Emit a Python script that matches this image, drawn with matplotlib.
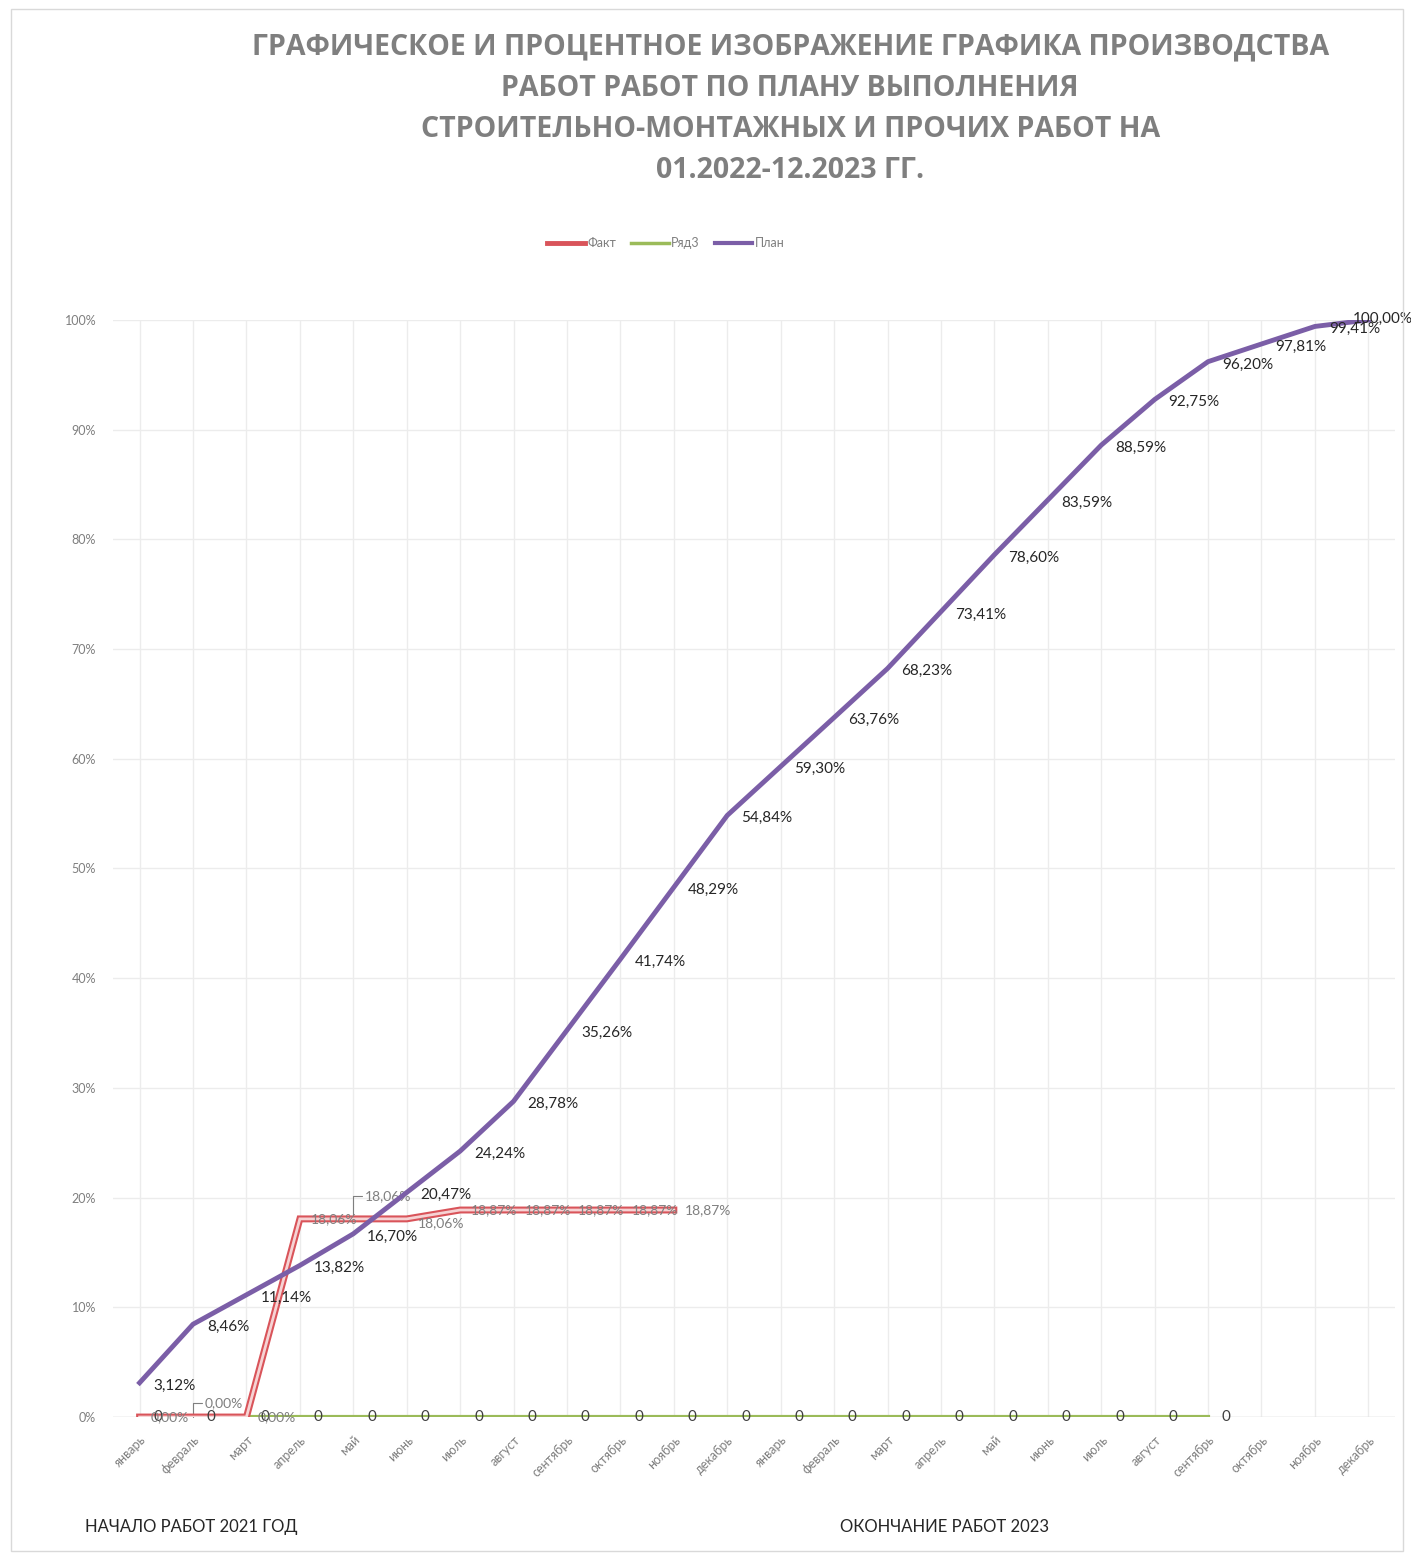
import matplotlib
matplotlib.use("Agg")
import matplotlib.pyplot as plt
from matplotlib.patches import Rectangle
from matplotlib.lines import Line2D

plt.rcParams['font.family'] = ['Lato', 'DejaVu Sans']

months = ['январь', 'февраль', 'март', 'апрель', 'май', 'июнь', 'июль',
          'август', 'сентябрь', 'октябрь', 'ноябрь', 'декабрь']
categories = months + months

plan = [3.12, 8.46, 11.14, 13.82, 16.70, 20.47, 24.24, 28.78, 35.26, 41.74,
        48.29, 54.84, 59.30, 63.76, 68.23, 73.41, 78.60, 83.59, 88.59, 92.75,
        96.20, 97.81, 99.41, 100.00]
fact = [0.00, 0.00, 0.00, 18.06, 18.06, 18.06, 18.87, 18.87, 18.87, 18.87, 18.87]
row3 = [0] * 21

plan_c = '#7b5ea7'
fact_c = '#d9545a'
row3_c = '#9bbb59'
gray = '#7f7f7f'


def pct(v):
    return f"{v:.2f}%".replace('.', ',')


fig = plt.figure(figsize=(14.11, 15.57), dpi=100)
fig.patches.append(Rectangle((0.008, 0.004), 0.986, 0.99, transform=fig.transFigure,
                             fill=False, edgecolor='#d9d9d9', lw=1))
ax = fig.add_axes([0.080, 0.0899, 0.9087, 0.7046])

x_all = list(range(len(categories)))

# lines
ax.plot(x_all[:len(row3)], row3, color=row3_c, lw=3, zorder=3)
ax.plot(x_all[:len(fact)], fact, color=fact_c, lw=5, zorder=4, solid_joinstyle='miter')
ax.plot(x_all[:len(fact)], fact, color='#f6d3d4', lw=2, zorder=5, solid_joinstyle='miter')
ax.plot(x_all, plan, color=plan_c, lw=3.5, zorder=6)

# labels: Ряд3
for i, v in enumerate(row3):
    ax.annotate(str(v), (i, v), xytext=(10, 0), textcoords='offset points',
                ha='left', va='center', fontsize=11, color='#404040', zorder=7)

# labels: Факт
for i, v in enumerate(fact):
    if i == 1:
        ax.annotate(pct(v), (i, v), xytext=(i + 0.22, v + 1.3), textcoords='data',
                    ha='left', va='center', fontsize=10, color=gray,
                    arrowprops=dict(arrowstyle='-', color=gray, lw=0.8,
                                    shrinkA=0, shrinkB=0,
                                    connectionstyle='angle,angleA=0,angleB=90,rad=0'))
    elif i == 4:
        ax.annotate(pct(v), (i, v), xytext=(i + 0.22, v + 2.1), textcoords='data',
                    ha='left', va='center', fontsize=10, color=gray,
                    arrowprops=dict(arrowstyle='-', color=gray, lw=0.8,
                                    shrinkA=0, shrinkB=0,
                                    connectionstyle='angle,angleA=0,angleB=90,rad=0'))
    elif i == 5:
        ax.annotate(pct(v), (i, v), xytext=(8, -3), textcoords='offset points',
                    ha='left', va='center', fontsize=10, color=gray, zorder=7)
    else:
        ax.annotate(pct(v), (i, v), xytext=(8, 0), textcoords='offset points',
                    ha='left', va='center', fontsize=10, color=gray, zorder=7)

# labels: План
for i, v in enumerate(plan):
    off = (10, -2) if i < len(plan) - 1 else (-11, 1)
    ax.annotate(pct(v), (i, v), xytext=off, textcoords='offset points',
                ha='left', va='center', fontsize=11, color='#262626', zorder=8)

ax.set_xlim(-0.5, len(categories) - 0.5)
ax.set_ylim(0, 100)
ax.set_yticks(range(0, 101, 10))
ax.set_yticklabels([f"{t}%" for t in range(0, 101, 10)], fontsize=9, color=gray)
ax.set_xticks(x_all)
ax.set_xticklabels(categories, rotation=45, ha='right', rotation_mode='anchor',
                   fontsize=9, color=gray)
ax.tick_params(length=0, pad=12)
ax.grid(True, color='#ececec', lw=1)
ax.set_axisbelow(True)
for s in ax.spines.values():
    s.set_visible(False)
ax.axhline(0, color='#d9d9d9', lw=1, zorder=1)

# legend
handles = [Line2D([], [], color=fact_c, lw=3.5),
           Line2D([], [], color=row3_c, lw=2.5),
           Line2D([], [], color=plan_c, lw=3)]
leg = fig.legend(handles, ['Факт', 'Ряд3', 'План'], loc='center',
                 bbox_to_anchor=(0.472, 0.844), ncol=3, frameon=False,
                 fontsize=9, handlelength=3, handletextpad=0.2, columnspacing=1.2)
for t in leg.get_texts():
    t.set_color(gray)

fig.text(0.56, 0.93,
         "ГРАФИЧЕСКОЕ И ПРОЦЕНТНОЕ ИЗОБРАЖЕНИЕ ГРАФИКА ПРОИЗВОДСТВА\n"
         "РАБОТ РАБОТ ПО ПЛАНУ ВЫПОЛНЕНИЯ\n"
         "СТРОИТЕЛЬНО-МОНТАЖНЫХ И ПРОЧИХ РАБОТ НА\n"
         "01.2022-12.2023 ГГ.",
         ha='center', va='center', fontsize=20.5, fontweight='bold', color=gray,
         linespacing=1.55, family=['Open Sans', 'DejaVu Sans'])

fig.text(0.060, 0.016, "НАЧАЛО РАБОТ 2021 ГОД", fontsize=12, color='#262626')
fig.text(0.595, 0.016, "ОКОНЧАНИЕ РАБОТ 2023", fontsize=12, color='#262626')

fig.savefig('out.png', dpi=100)
